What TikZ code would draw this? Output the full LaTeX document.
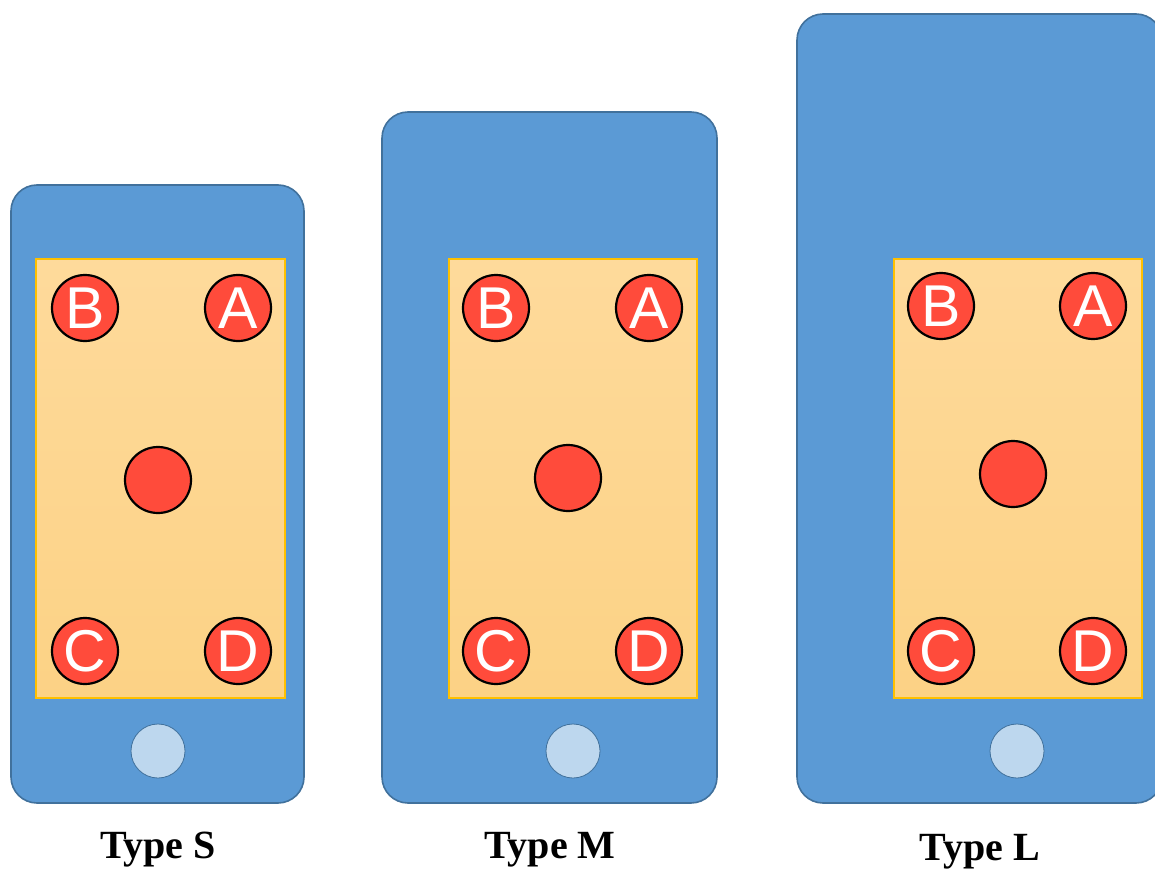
\documentclass[tikz,border=0pt]{standalone}
\usepackage{fontspec}
\setmainfont{Liberation Serif}
\newfontfamily\letterfont{Liberation Sans}
\definecolor{phoneblue}{HTML}{5B9AD5}
\definecolor{phoneedge}{HTML}{41719C}
\definecolor{screentop}{HTML}{FEDA9B}
\definecolor{screenbot}{HTML}{FCD285}
\definecolor{screenedge}{HTML}{FFC000}
\definecolor{dotred}{HTML}{FF4B3B}
\definecolor{homefill}{HTML}{BDD7EE}
\tikzset{
  phone/.style={fill=phoneblue, draw=phoneedge, line width=1.6pt, rounded corners=26pt},
  screen/.style={top color=screentop, bottom color=screenbot, draw=screenedge, line width=1.2pt},
  dot/.style={circle, fill=dotred, draw=black, line width=2.2pt, minimum size=66pt, inner sep=0pt,
    text=white, font=\letterfont\fontsize{59}{59}\selectfont},
  homebtn/.style={circle, fill=homefill, draw=phoneedge, line width=0.8pt, minimum size=54pt, inner sep=0pt},
  caption/.style={font=\bfseries\fontsize{40}{40}\selectfont}
}
\begin{document}
\begin{tikzpicture}[x=1pt, y=-1pt]
\useasboundingbox (0,0) rectangle (1155,869);
\begin{scope}
\clip (0,0) rectangle (1155,869);
% Type S
\draw[phone] (11,185) rectangle (304,803);
\draw[screen] (36,259) rectangle (285,698);
\node[dot] (sB) at (85,308) {B};
\node[dot] (sA) at (238,308) {A};
\node[dot] (sO) at (158,480) {};
\node[dot] (sC) at (85,651) {C};
\node[dot] (sD) at (238,651) {D};
\node[homebtn] (sH) at (158,751) {};
\node[caption] (sT) at (158,850) {Type S};
% Type M
\draw[phone] (382,112) rectangle (717,803);
\draw[screen] (449,259) rectangle (697,698);
\node[dot] (mB) at (496,308) {B};
\node[dot] (mA) at (649,308) {A};
\node[dot] (mO) at (568,478) {};
\node[dot] (mC) at (496,651) {C};
\node[dot] (mD) at (649,651) {D};
\node[homebtn] (mH) at (573,751) {};
\node[caption] (mT) at (550,850) {Type M};
% Type L
\draw[phone] (797,14) rectangle (1162,803);
\draw[screen] (894,259) rectangle (1142,698);
\node[dot] (lB) at (941,306) {B};
\node[dot] (lA) at (1093,306) {A};
\node[dot] (lO) at (1013,474) {};
\node[dot] (lC) at (941,651) {C};
\node[dot] (lD) at (1093,651) {D};
\node[homebtn] (lH) at (1017,751) {};
\node[caption] (lT) at (980,852) {Type L};
\end{scope}
\end{tikzpicture}
\end{document}
